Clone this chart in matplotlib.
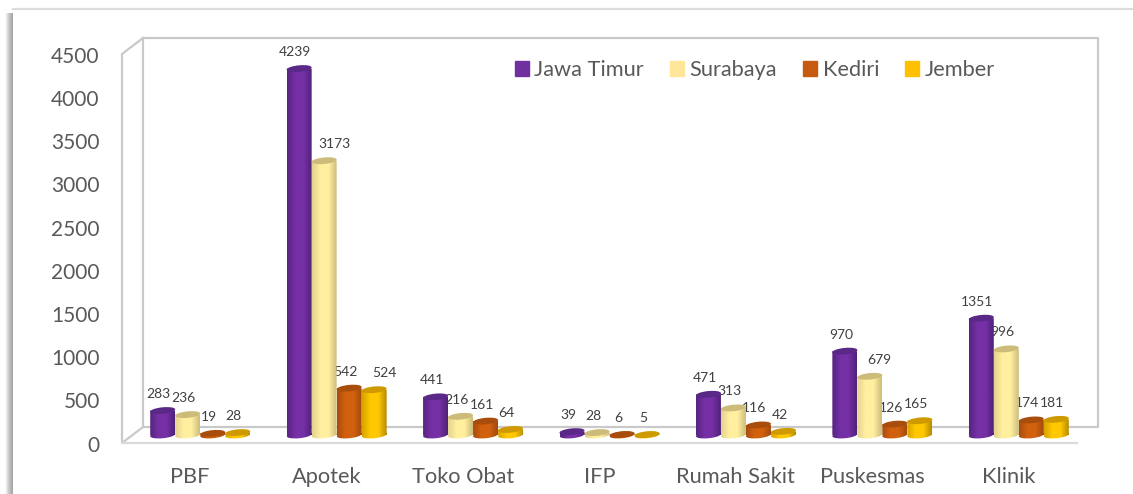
import numpy as np
import matplotlib
matplotlib.use("Agg")
import matplotlib.pyplot as plt
from matplotlib.colors import LinearSegmentedColormap
from matplotlib.patches import PathPatch, Patch
from matplotlib.path import Path

# data
categories = ["PBF", "Apotek", "Toko Obat", "IFP", "Rumah Sakit", "Puskesmas", "Klinik"]
series_names = ["Jawa Timur", "Surabaya", "Kediri", "Jember"]
jawa_timur = [283, 4239, 441, 39, 471, 970, 1351]
surabaya = [236, 3173, 216, 28, 313, 679, 996]
kediri = [19, 542, 161, 6, 116, 126, 174]
jember = [28, 524, 64, 5, 42, 165, 181]
y_ticks = [0, 500, 1000, 1500, 2000, 2500, 3000, 3500, 4000, 4500]

# (edge left, middle, edge right, top cap)
shades = [
    ("#552480", "#7630A6", "#4F2278", "#5A2887"),
    ("#E3D28F", "#FFEF9F", "#CDBD7C", "#CDBB7A"),
    ("#A84C0E", "#D2610F", "#A14A0D", "#A84D0C"),
    ("#D9A300", "#FFC800", "#B58A00", "#CE9A00"),
]
legend_colors = ["#7030A0", "#FFE699", "#C55A11", "#FFC000"]

TEXT = "#595959"
W, H = 1133, 494
# a few labels sit to the right of their bar, (series, category) -> dx in pixels
LABEL_DX = {(1, 1): 10, (3, 1): 10, (1, 5): 9}


def px_axes(fig, left, right, top, bottom):
    return fig.add_axes([left / W, 1 - bottom / H, (right - left) / W, (bottom - top) / H])


def ellipse_path(cx, cy, w, h, tilt=0.35):
    c = Path.unit_circle()
    v = c.vertices
    verts = np.column_stack([cx + w / 2 * v[:, 0], cy + h / 2 * (v[:, 1] + tilt * v[:, 0])])
    return Path(verts, c.codes)


def draw_cylinder(ax, bar, shade, cap_h, zorder):
    x0, w, top = bar.get_x(), bar.get_width(), bar.get_height()
    cx = x0 + w / 2
    body = Path.make_compound_path(
        Path([(x0, 0), (x0 + w, 0), (x0 + w, top), (x0, top), (x0, 0)],
             [Path.MOVETO, Path.LINETO, Path.LINETO, Path.LINETO, Path.CLOSEPOLY]),
        ellipse_path(cx, 0, w, cap_h),
    )
    cmap = LinearSegmentedColormap.from_list("c", [shade[0], shade[1], shade[1], shade[2]])
    grad = np.linspace(0, 1, 64).reshape(1, -1)
    im = ax.imshow(grad, cmap=cmap, aspect="auto", zorder=zorder, interpolation="bilinear",
                   extent=(x0, x0 + w, -cap_h, top + cap_h))
    im.set_clip_box(ax.figure.bbox)
    im.set_clip_path(PathPatch(body, transform=ax.transData))
    ax.add_patch(PathPatch(ellipse_path(cx, top, w, cap_h), fc=shade[3], ec="none",
                           zorder=zorder + 0.1, clip_on=False))


fig = plt.figure(figsize=(W / 100, H / 100), dpi=100)
plt.rcParams["font.family"] = ["Lato", "DejaVu Sans"]

# card and 3D walls
bg = fig.add_axes([0, 0, 1, 1], zorder=0)
bg.axis("off")
sh = LinearSegmentedColormap.from_list("s", ["#FFFFFF", "#C8C8C8", "#A4A4A4"])
bg.imshow(np.linspace(0, 1, 16).reshape(1, -1), cmap=sh, aspect="auto", extent=(5, 13, H, 14))
bg.set_xlim(0, W)
bg.set_ylim(H, 0)
bg.plot([13, W], [9.5, 9.5], color="#DCDCDC", lw=1.6)
wall = "#C9C9C9"
bg.plot([143, 1098, 1098, 143, 143], [38, 38, 427, 427, 38], color=wall, lw=1.6)
bg.plot([143, 122, 122, 143], [38, 54, 443, 427], color=wall, lw=1.6)
bg.plot([122, 1077], [443, 443], color="#DADADA", lw=1.6)

# front plane carries the axis labels
ax = px_axes(fig, 122, 1077, 55, 443.5)
ax.patch.set_alpha(0)
ax.set_xlim(-0.5, len(categories) - 0.5)
ax.set_ylim(0, 4500)
ax.set_xticks(range(len(categories)), categories)
ax.set_yticks(y_ticks)
ax.tick_params(length=0, labelcolor=TEXT)
ax.tick_params(axis="x", pad=17, labelsize=15.7)
ax.tick_params(axis="y", pad=16, labelsize=15)
for s in ax.spines.values():
    s.set_visible(False)

# bars stand a little behind the front plane
bx = px_axes(fig, 132, 1087, 46, 435)
bx.patch.set_alpha(0)
bx.axis("off")

bar_w = 25 / (955 / len(categories))
cap_h = 6.5 / (389 / 4500)
all_series = [jawa_timur, surabaya, kediri, jember]
xs = np.arange(len(categories))
for i, values in enumerate(all_series):
    bars = bx.bar(xs + (i - 1.5) * bar_w, values, bar_w, color="none")
    for j, b in enumerate(bars):
        draw_cylinder(bx, b, shades[i], cap_h, 5 + i * 0.2)
        bx.annotate(str(values[j]), (b.get_x() + bar_w / 2, values[j]),
                    xytext=(LABEL_DX.get((i, j), -4), 16.5),
                    textcoords="offset pixels", ha="center", va="center",
                    fontsize=10, color="#404040", zorder=4, annotation_clip=False)
bx.set_xlim(-0.5, len(categories) - 0.5)
bx.set_ylim(0, 4500)

handles = [Patch(color=c, label=n) for c, n in zip(legend_colors, series_names)]
bx.legend(handles=handles, ncol=4, frameon=False, fontsize=15.7, labelcolor=TEXT,
          loc="center left", bbox_to_anchor=((515 - 132) / 955, (435 - 70) / 389),
          handlelength=0.64, handleheight=0.64, handletextpad=0.25, columnspacing=1.2,
          borderpad=0, borderaxespad=0)

fig.savefig("out.png", dpi=100)
